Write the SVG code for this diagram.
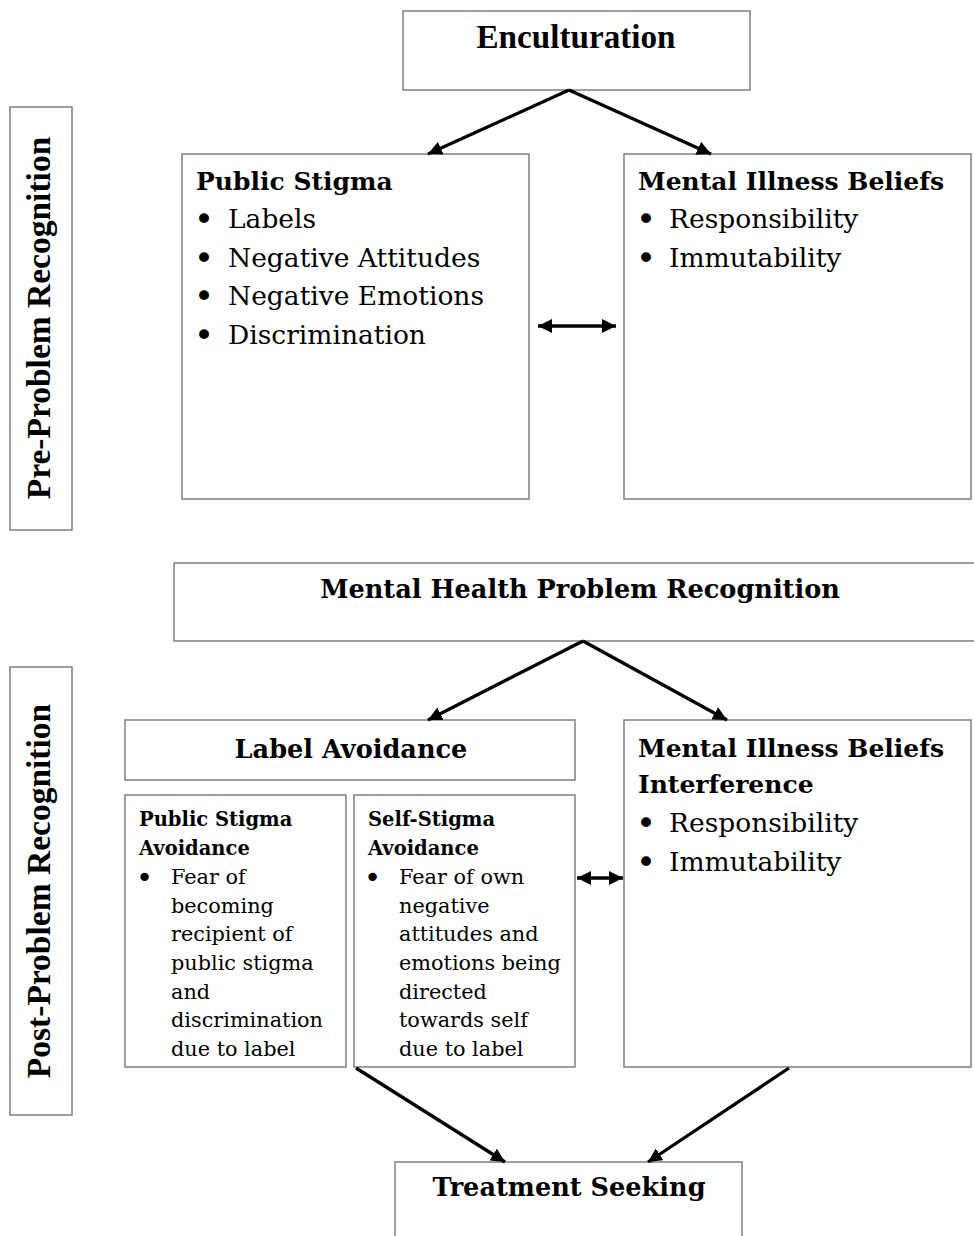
<svg xmlns="http://www.w3.org/2000/svg" width="974" height="1236" viewBox="0 0 974 1236">
<style>
.box{fill:#fff;stroke:#7f7f7f;stroke-width:1.5}
.h{font-family:"DejaVu Serif","Liberation Serif",serif;font-weight:bold;font-size:25px;fill:#000}
.hc{font-family:"DejaVu Serif","Liberation Serif",serif;font-weight:bold;font-size:25.6px;fill:#000}
.b{font-family:"DejaVu Serif","Liberation Serif",serif;font-size:26.5px;fill:#000}
.hs{font-family:"DejaVu Serif","Liberation Serif",serif;font-weight:bold;font-size:19.5px;fill:#000}
.bs{font-family:"DejaVu Serif","Liberation Serif",serif;font-size:20.8px;fill:#000}
.bl{font-family:"DejaVu Sans","Liberation Sans",sans-serif;font-size:34px;fill:#000}
.bls{font-family:"DejaVu Sans","Liberation Sans",sans-serif;font-size:29px;fill:#000}
.side{font-family:"Liberation Serif","Times New Roman",serif;font-weight:bold;font-size:33.5px;fill:#000}
.c{stroke:#000;stroke-width:3.3;fill:none}
</style>
<defs>
<marker id="ah" markerUnits="userSpaceOnUse" markerWidth="16" markerHeight="14" refX="14" refY="7" orient="auto-start-reverse">
<path d="M0,0 L14,7 L0,14 Z" fill="#000"/>
</marker>
</defs>
<rect width="974" height="1236" fill="#fff"/>

<g id="side-pre">
<rect class="box" x="10" y="107" width="62" height="423"/>
<text class="side" transform="translate(50,318) rotate(-90)" text-anchor="middle">Pre-Problem Recognition</text>
</g>
<g id="side-post">
<rect class="box" x="10" y="667" width="62" height="448"/>
<text class="side" transform="translate(50,891) rotate(-90)" text-anchor="middle">Post-Problem Recognition</text>
</g>

<g id="enculturation">
<rect class="box" x="403" y="11" width="347" height="79"/>
<text x="576" y="48" text-anchor="middle" font-family="Liberation Serif, serif" font-weight="bold" font-size="34" textLength="199" lengthAdjust="spacingAndGlyphs">Enculturation</text>
</g>

<g id="public-stigma">
<rect class="box" x="182" y="154" width="347" height="345"/>
<text class="h" x="196" y="190">Public Stigma</text>
<g class="bl">
<text x="194" y="231">•</text><text x="194" y="270">•</text><text x="194" y="308">•</text><text x="194" y="347">•</text>
</g>
<g class="b">
<text x="228" y="228">Labels</text>
<text x="228" y="267">Negative Attitudes</text>
<text x="228" y="305">Negative Emotions</text>
<text x="228" y="344">Discrimination</text>
</g>
</g>

<g id="mental-illness-beliefs">
<rect class="box" x="624" y="154" width="347" height="345"/>
<text class="h" x="638" y="190">Mental Illness Beliefs</text>
<g class="bl">
<text x="636" y="231">•</text><text x="636" y="270">•</text>
</g>
<g class="b">
<text x="669" y="228">Responsibility</text>
<text x="669" y="267">Immutability</text>
</g>
</g>

<g id="recognition">
<rect class="box" x="174" y="563" width="810" height="78"/>
<text class="hc" x="580" y="598" text-anchor="middle">Mental Health Problem Recognition</text>
</g>

<g id="label-avoidance">
<rect class="box" x="125" y="720" width="450" height="60"/>
<text class="hc" x="351" y="758" text-anchor="middle">Label Avoidance</text>
</g>

<g id="public-stigma-avoidance">
<rect class="box" x="125" y="795" width="221" height="272"/>
<text class="hs" x="139" y="826">Public Stigma</text>
<text class="hs" x="139" y="855">Avoidance</text>
<text class="bls" x="136" y="887">•</text>
<g class="bs">
<text x="171" y="884">Fear of</text>
<text x="171" y="913">becoming</text>
<text x="171" y="941">recipient of</text>
<text x="171" y="970">public stigma</text>
<text x="171" y="999">and</text>
<text x="171" y="1027">discrimination</text>
<text x="171" y="1056">due to label</text>
</g>
</g>

<g id="self-stigma-avoidance">
<rect class="box" x="354" y="795" width="221" height="272"/>
<text class="hs" x="368" y="826">Self-Stigma</text>
<text class="hs" x="368" y="855">Avoidance</text>
<text class="bls" x="364" y="887">•</text>
<g class="bs">
<text x="399" y="884">Fear of own</text>
<text x="399" y="913">negative</text>
<text x="399" y="941">attitudes and</text>
<text x="399" y="970">emotions being</text>
<text x="399" y="999">directed</text>
<text x="399" y="1027">towards self</text>
<text x="399" y="1056">due to label</text>
</g>
</g>

<g id="beliefs-interference">
<rect class="box" x="624" y="720" width="347" height="347"/>
<text class="h" x="638" y="757">Mental Illness Beliefs</text>
<text class="h" x="638" y="793">Interference</text>
<g class="bl">
<text x="636" y="835">•</text><text x="636" y="874">•</text>
</g>
<g class="b">
<text x="669" y="832">Responsibility</text>
<text x="669" y="871">Immutability</text>
</g>
</g>

<g id="treatment-seeking">
<rect class="box" x="395" y="1162" width="347" height="90"/>
<text class="hc" x="569" y="1196" text-anchor="middle">Treatment Seeking</text>
</g>

<g id="connectors">
<line class="c" x1="569" y1="90" x2="428" y2="154" marker-end="url(#ah)"/>
<line class="c" x1="569" y1="90" x2="711" y2="154" marker-end="url(#ah)"/>
<line class="c" x1="538" y1="326" x2="616" y2="326" marker-start="url(#ah)" marker-end="url(#ah)"/>
<line class="c" x1="583" y1="641" x2="428" y2="720" marker-end="url(#ah)"/>
<line class="c" x1="583" y1="641" x2="727" y2="720" marker-end="url(#ah)"/>
<line class="c" x1="577" y1="878" x2="623" y2="878" marker-start="url(#ah)" marker-end="url(#ah)"/>
<line class="c" x1="356" y1="1068" x2="505" y2="1162" marker-end="url(#ah)"/>
<line class="c" x1="789" y1="1068" x2="648" y2="1162" marker-end="url(#ah)"/>
</g>
</svg>
